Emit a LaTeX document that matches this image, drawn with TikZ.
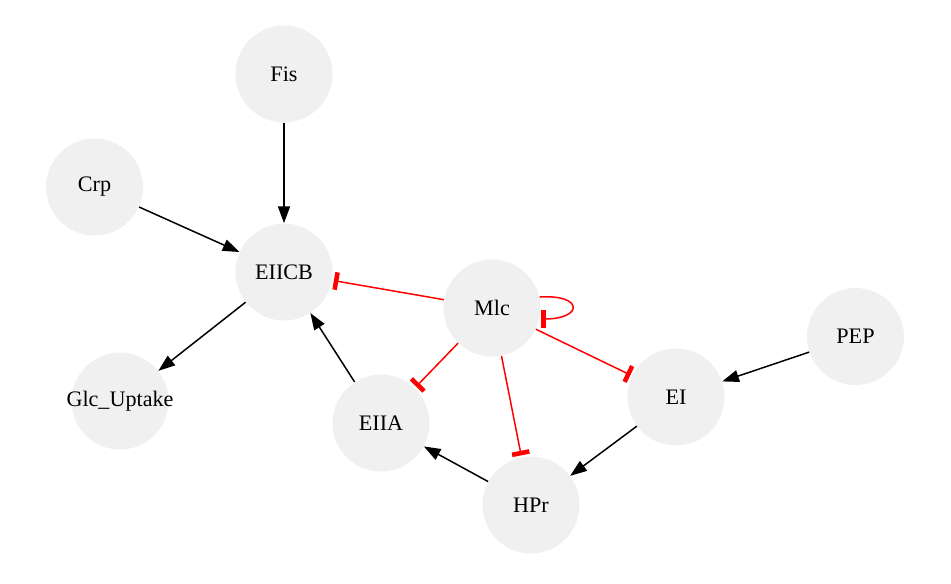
\documentclass[tikz,border=0pt]{standalone}
\usepackage{fontspec}
\setmainfont{Liberation Serif}
\usepackage{tikz}
\usetikzlibrary{arrows.meta}
\definecolor{nodegray}{RGB}{240,240,240}

\begin{document}
\begin{tikzpicture}[
        x=0.02cm, y=-0.02cm,
        font=\fontsize{12.6}{15}\selectfont,
        gene/.style={circle, fill=nodegray, minimum size=1.94cm, inner sep=0pt},
        act/.style={-{Triangle[length=9.5pt,width=6.8pt]}, line width=0.85pt, black},
        inh/.style={-{Bar[width=10pt,line width=2.6pt]}, shorten >=1pt, line width=0.85pt, red}
        ]
        \useasboundingbox (0,0) rectangle (951,583);

        \node[gene] (fis) at (284,74) {Fis};
        \node[gene] (crp) at (94.5,187) {Crp};
        \node[gene] (eiicb) at (284,272) {EIICB};
        \node[gene] (glc) at (120,401) {\makebox[0pt]{Glc\_Uptake}};
        \node[gene] (mlc) at (492,308) {Mlc};
        \node[gene] (pep) at (855.5,336.5) {PEP};
        \node[gene] (ei) at (676,397) {EI};
        \node[gene] (eiia) at (381,423) {EIIA};
        \node[gene] (hpr) at (531,505) {HPr};

        % activation
        \draw[act] (fis) -- (eiicb);
        \draw[act] (crp) -- (eiicb);
        \draw[act] (eiicb) -- (glc);
        \draw[act] (eiia) -- (eiicb);
        \draw[act] (hpr) -- (eiia);
        \draw[act] (ei) -- (hpr);
        \draw[act] (pep) -- (ei);

        % repression by Mlc
        \draw[inh] (mlc) -- (eiicb);
        \draw[inh] (mlc) -- (eiia);
        \draw[inh] (mlc) -- (hpr);
        \draw[inh] (mlc) -- (ei);
        \draw[inh] (mlc.13) .. controls +(44,-3) and +(44,0) .. (mlc.-13);
    \end{tikzpicture}
\end{document}
